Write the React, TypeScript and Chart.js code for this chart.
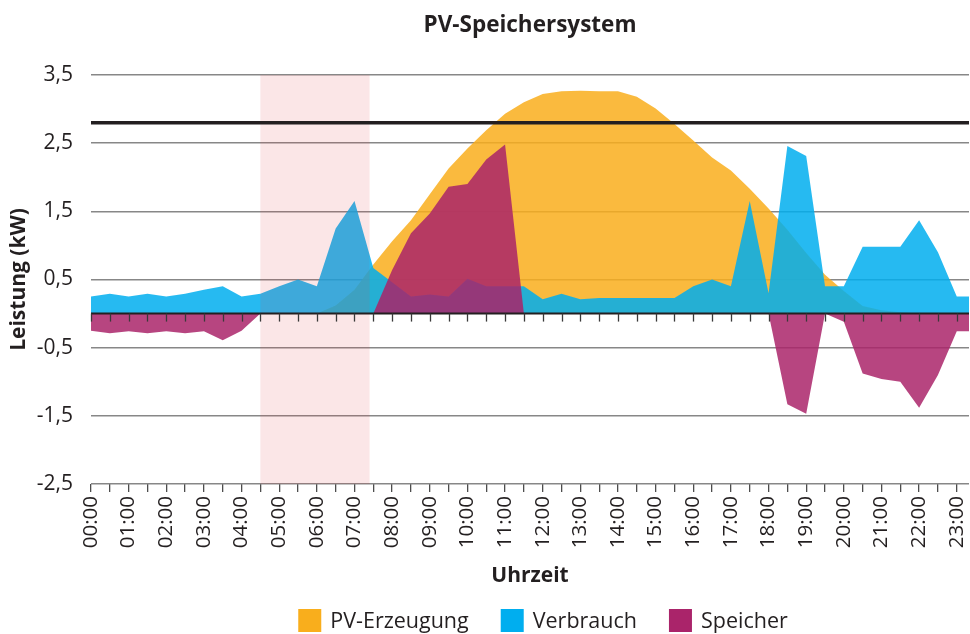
import React, { useEffect, useRef } from 'react';
import { Chart, registerables } from 'chart.js';

Chart.register(...registerables);

// ---- data (half-hour steps) ----
const times = [
  '00:00', '00:30', '01:00', '01:30', '02:00', '02:30', '03:00', '03:30',
  '04:00', '04:30', '05:00', '05:30', '06:00', '06:30', '07:00', '07:30',
  '08:00', '08:30', '09:00', '09:30', '10:00', '10:30', '11:00', '11:30',
  '12:00', '12:30', '13:00', '13:30', '14:00', '14:30', '15:00', '15:30',
  '16:00', '16:30', '17:00', '17:30', '18:00', '18:30', '19:00', '19:30',
  '20:00', '20:30', '21:00', '21:30', '22:00', '22:30', '23:00', '23:30',
];

const pvErzeugung = [
  0, 0, 0, 0, 0, 0, 0, 0,
  0, 0, 0, 0, 0, 0.12, 0.35, 0.72,
  1.06, 1.37, 1.75, 2.13, 2.42, 2.69, 2.93, 3.1,
  3.22, 3.26, 3.27, 3.26, 3.26, 3.18, 3.01, 2.78,
  2.54, 2.29, 2.1, 1.83, 1.54, 1.23, 0.89, 0.57,
  0.33, 0.11, 0.05, 0.02, 0, 0, 0, 0,
];

const verbrauch = [
  0.25, 0.29, 0.25, 0.29, 0.25, 0.29, 0.35, 0.4,
  0.25, 0.29, 0.4, 0.5, 0.4, 1.25, 1.65, 0.67,
  0.46, 0.25, 0.28, 0.25, 0.51, 0.4, 0.4, 0.4,
  0.21, 0.29, 0.21, 0.23, 0.23, 0.23, 0.23, 0.23,
  0.4, 0.5, 0.4, 1.65, 0.3, 2.46, 2.31, 0.4,
  0.4, 0.98, 0.98, 0.98, 1.37, 0.9, 0.25, 0.25,
];

const speicher = [
  -0.25, -0.29, -0.26, -0.29, -0.26, -0.29, -0.26, -0.39,
  -0.25, 0, 0, 0, 0, 0, 0, 0,
  0.64, 1.18, 1.47, 1.86, 1.9, 2.26, 2.48, 0,
  0, 0, 0, 0, 0, 0, 0, 0,
  0, 0, 0, 0, 0, -1.33, -1.47, 0,
  -0.12, -0.88, -0.96, -1.0, -1.38, -0.9, -0.26, -0.26,
];

const seriesLabels = ['PV-Erzeugung', 'Verbrauch', 'Speicher'];
const seriesRgb = ['249,174,28', '0,174,239', '170,36,106'];

const chartTitle = 'PV-Speichersystem';
const yTitle = 'Leistung (kW)';
const xTitle = 'Uhrzeit';

const yMin = -2.5;
const yMax = 3.5;
const yStep = 1;
const limitLine = 2.8; // kW
const bandStart = 9; // 04:30 (index)
const bandEnd = 14.8; // ~07:24 (index)
const xMaxIndex = 46.65;

const TEXT = '#231f20';
const FONT = "'Open Sans', 'Noto Sans', sans-serif";

const overlayPlugin = {
  id: 'overlay',
  afterDatasetsDraw(chart: any) {
    const { ctx, chartArea: a, scales } = chart;
    const x = scales.x;
    const y = scales.y;
    ctx.save();
    // night band (translucent overlay)
    const x0 = x.getPixelForValue(bandStart);
    const x1 = x.getPixelForValue(bandEnd);
    ctx.fillStyle = 'rgba(224,63,70,0.13)';
    ctx.fillRect(x0, y.getPixelForValue(yMax), x1 - x0, y.getPixelForValue(yMin) - y.getPixelForValue(yMax));
    // zero line
    const y0 = y.getPixelForValue(0);
    ctx.strokeStyle = TEXT;
    ctx.lineWidth = 2;
    ctx.beginPath();
    ctx.moveTo(a.left, y0);
    ctx.lineTo(a.right, y0);
    ctx.stroke();
    // tick marks on zero line
    ctx.lineWidth = 1.3;
    ctx.strokeStyle = '#3a3a3a';
    x.ticks.forEach((t: any) => {
      const px = Math.round(x.getPixelForValue(t.value)) + 0.5;
      ctx.beginPath();
      ctx.moveTo(px, y0);
      ctx.lineTo(px, y0 + 8);
      ctx.stroke();
    });
    // limit line
    const yl = y.getPixelForValue(limitLine);
    ctx.strokeStyle = TEXT;
    ctx.lineWidth = 3.6;
    ctx.beginPath();
    ctx.moveTo(a.left, yl);
    ctx.lineTo(a.right, yl);
    ctx.stroke();
    ctx.restore();
  },
};

const textPlugin = {
  id: 'texts',
  afterDraw(chart: any) {
    const { ctx, chartArea: a } = chart;
    const cx = (a.left + a.right) / 2;
    ctx.save();
    // title
    ctx.fillStyle = TEXT;
    ctx.font = `bold 22.5px ${FONT}`;
    ctx.textAlign = 'center';
    ctx.textBaseline = 'alphabetic';
    ctx.fillText(chartTitle, cx, 32);
    // legend
    ctx.font = `21.5px ${FONT}`;
    ctx.textAlign = 'left';
    const box = 23;
    const boxGap = 9;
    const gap = 32;
    const items = chart.data.datasets.map((d: any, i: number) => ({
      label: d.label as string,
      color: `rgb(${seriesRgb[i]})`,
      w: box + boxGap + ctx.measureText(d.label).width,
    }));
    const total = items.reduce((s: number, it: any) => s + it.w, 0) + gap * (items.length - 1);
    let xp = cx + 13 - total / 2;
    items.forEach((it: any) => {
      ctx.fillStyle = it.color;
      ctx.fillRect(xp, 609, box, box);
      ctx.fillStyle = TEXT;
      ctx.fillText(it.label, xp + box + boxGap, 628);
      xp += it.w + gap;
    });
    ctx.restore();
  },
};

export default function App() {
  const ref = useRef<HTMLCanvasElement>(null);

  useEffect(() => {
    document.body.style.margin = '0';
    Chart.defaults.font.family = FONT;
    const series = [pvErzeugung, verbrauch, speicher];
    const chart = new Chart(ref.current as HTMLCanvasElement, {
      type: 'line',
      data: {
        datasets: series.map((vals, si) => ({
          label: seriesLabels[si],
          data: vals.map((v, i) => ({ x: i, y: v })),
          backgroundColor: `rgba(${seriesRgb[si]},0.85)`,
          borderColor: 'rgba(0,0,0,0)',
          borderWidth: 0,
          pointRadius: 0,
          tension: 0,
          fill: 'origin',
          order: 3 - si,
        })),
      },
      options: {
        animation: false,
        responsive: false,
        devicePixelRatio: 1,
        events: [],
        layout: { padding: { top: 75, right: 1, bottom: 40, left: 0 } },
        plugins: {
          legend: { display: false },
          title: { display: false },
          tooltip: { enabled: false },
        },
        scales: {
          x: {
            type: 'linear',
            min: 0,
            max: xMaxIndex,
            afterBuildTicks: (s: any) => {
              s.ticks = times.map((_, i) => ({ value: i })).filter((t) => t.value <= s.max);
            },
            afterFit: (s: any) => {
              s.height = 110;
              s.paddingLeft = 0;
              s.paddingRight = 0;
            },
            ticks: {
              autoSkip: false,
              maxRotation: 90,
              minRotation: 90,
              padding: 4,
              color: TEXT,
              font: { size: 20.5 },
              callback: (v: any) => (v % 2 === 0 ? times[v] : ''),
            },
            grid: {
              drawOnChartArea: false,
              drawTicks: true,
              tickLength: 8,
              color: '#4d4d4d',
              lineWidth: 1.3,
            },
            border: { display: false },
            title: {
              display: true,
              text: xTitle,
              color: TEXT,
              font: { size: 21, weight: 'bold' },
              padding: { top: 0, bottom: 5 },
            },
          },
          y: {
            min: yMin,
            max: yMax,
            afterFit: (s: any) => {
              s.width = 91;
              s.paddingTop = 0;
              s.paddingBottom = 0;
            },
            ticks: {
              stepSize: yStep,
              padding: 18,
              color: TEXT,
              font: { size: 21 },
              callback: (v: any) => String(v).replace('.', ','),
            },
            grid: {
              drawTicks: false,
              color: '#878787',
              lineWidth: 1.6,
            },
            border: { display: false },
            title: {
              display: true,
              text: yTitle,
              color: TEXT,
              font: { size: 21, weight: 'bold' },
              padding: { top: 6, bottom: 0 },
            },
          },
        },
      } as any,
      plugins: [overlayPlugin, textPlugin],
    });
    return () => chart.destroy();
  }, []);

  return (
    <div style={{ width: 970, height: 634 }}>
      <canvas ref={ref} width={970} height={634} style={{ display: 'block' }} />
    </div>
  );
}
